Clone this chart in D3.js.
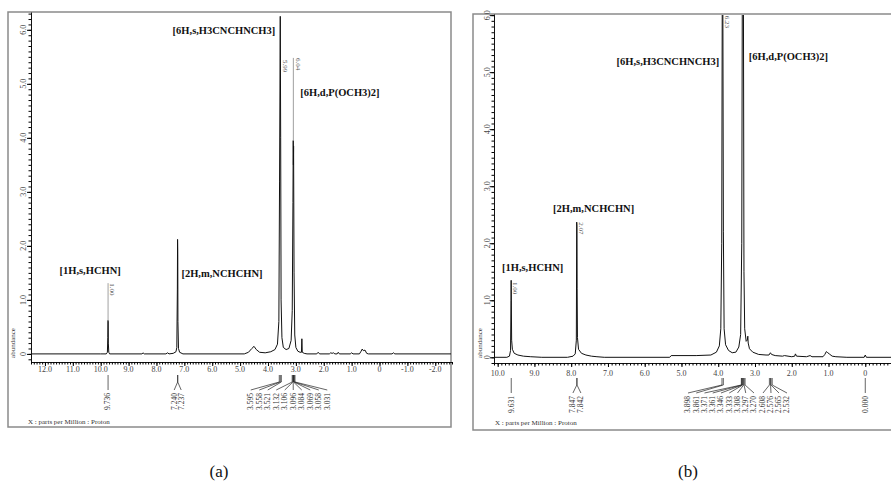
<!DOCTYPE html>
<html>
<head>
<meta charset="utf-8">
<script src="https://cdnjs.cloudflare.com/ajax/libs/d3/7.8.5/d3.min.js"></script>
<style>
  body { margin: 0; background: #fff; }
  svg { display: block; font-family: "Liberation Serif", "Times New Roman", serif; }
</style>
</head>
<body>
<div id="chart"></div>
<script>
/************ data *************************************************/

const yTickValues = [0, 1, 2, 3, 4, 5, 6];
const xTickValuesA = [12, 11, 10, 9, 8, 7, 6, 5, 4, 3, 2, 1, 0, -1, -2];
const xTickValuesB = [10, 9, 8, 7, 6, 5, 4, 3, 2, 1, 0];

const captions = ["(a)", "(b)"];
const xTitle = "X : parts per Million : Proton";
const yTitle = "abundance";

const assignments = ["[1H,s,HCHN]", "[2H,m,NCHCHN]", "[6H,s,H3CNCHNCH3]", "[6H,d,P(OCH3)2]"];

// [ppm, abundance]
const spectrumA = [
  [12.5, 0], [10.0, 0], [9.80, 0], [9.76, 0.03], [9.745, 0.3], [9.738, 0.62], [9.733, 0.6], [9.726, 0.2], [9.71, 0.03], [9.68, 0],
  [8.52, 0], [8.48, 0.02], [8.44, 0],
  [7.66, 0], [7.60, 0.02], [7.55, 0],
  [7.40, 0.01], [7.30, 0.04], [7.27, 0.12], [7.25, 1.2], [7.243, 2.12], [7.236, 1.9], [7.23, 0.6], [7.21, 0.1], [7.17, 0.03], [7.05, 0],
  [4.85, 0], [4.70, 0.03], [4.58, 0.1], [4.50, 0.14], [4.42, 0.08], [4.30, 0.03], [4.10, 0.02], [3.90, 0.04], [3.75, 0.08],
  [3.66, 0.18], [3.61, 0.6], [3.585, 3.2], [3.56, 6.25], [3.545, 4.0], [3.53, 1.0], [3.50, 0.3], [3.45, 0.12], [3.35, 0.08],
  [3.25, 0.1], [3.17, 0.25], [3.13, 0.8], [3.105, 2.8], [3.095, 3.95], [3.088, 3.5], [3.082, 3.85], [3.065, 1.5], [3.04, 0.35],
  [3.00, 0.12], [2.93, 0.05], [2.85, 0.03], [2.80, 0.03], [2.785, 0.28], [2.77, 0.03], [2.70, 0.01], [2.60, 0],
  [2.25, 0], [2.20, 0.03], [2.15, 0],
  [1.80, 0], [1.75, 0.02], [1.70, 0.01], [1.65, 0.02], [1.60, 0], [1.52, 0], [1.48, 0.03], [1.44, 0],
  [1.05, 0], [1.00, 0.02], [0.95, 0],
  [0.72, 0], [0.66, 0.05], [0.62, 0.09], [0.58, 0.06], [0.52, 0.07], [0.46, 0.01], [0.40, 0],
  [-0.45, 0], [-0.50, 0.02], [-0.55, 0], [-2.6, 0]
];

const spectrumB = [
  [10.1, 0], [9.75, 0], [9.68, 0.02], [9.65, 0.12], [9.637, 1.0], [9.633, 1.35], [9.628, 0.9], [9.62, 0.3], [9.60, 0.14],
  [9.55, 0.07], [9.45, 0.04], [9.30, 0.02], [9.10, 0.01], [8.80, 0],
  [8.10, 0], [7.95, 0.02], [7.89, 0.06], [7.86, 0.3], [7.85, 2.37], [7.844, 2.3], [7.838, 1.2], [7.83, 0.35], [7.80, 0.14],
  [7.72, 0.07], [7.60, 0.04], [7.45, 0.02], [7.30, 0.01], [7.10, 0],
  [5.32, 0], [5.28, 0.03], [4.60, 0.03], [4.20, 0.04], [4.05, 0.09], [3.97, 0.2], [3.93, 0.5], [3.905, 2.0], [3.89, 6.5],
  [3.875, 6.5], [3.86, 2.2], [3.84, 0.5], [3.80, 0.22], [3.72, 0.12], [3.62, 0.08], [3.52, 0.09], [3.44, 0.18], [3.39, 0.4],
  [3.36, 2.0], [3.345, 6.5], [3.315, 6.5], [3.30, 1.5], [3.28, 0.5], [3.24, 0.28], [3.21, 0.3], [3.195, 0.37], [3.185, 0.25],
  [3.15, 0.15], [3.06, 0.09], [2.90, 0.05], [2.70, 0.04], [2.62, 0.04], [2.58, 0.08], [2.55, 0.05], [2.45, 0.03],
  [2.25, 0.02], [2.20, 0.03], [2.00, 0.01], [1.92, 0.02], [1.90, 0.06], [1.87, 0.02], [1.60, 0.01], [1.50, 0.03], [1.45, 0.01],
  [1.15, 0.01], [1.10, 0.05], [1.06, 0.1], [1.02, 0.08], [0.98, 0.06], [0.90, 0.02], [0.80, 0.01], [0.50, 0],
  [0.03, 0], [0.00, 0.04], [-0.03, 0], [-0.7, 0]
];

const integralsA = ["1.00", "5.99", "6.04"];
const integralPpmA = [9.736, 3.55, 3.09];
const integralsB = ["1.00", "2.07", "6.23"];
const integralPpmB = [9.631, 7.845, 3.885];

const peakPicksA = [
  [9.736],
  [7.240, 7.237],
  [3.595, 3.558, 3.521, 3.132, 3.106, 3.096, 3.084, 3.069, 3.058, 3.031]
];
const peakPicksB = [
  [9.631],
  [7.847, 7.842],
  [3.898, 3.861, 3.371, 3.361, 3.346, 3.333, 3.308, 3.297, 3.270],
  [2.608, 2.576, 2.565, 2.532],
  [0.000]
];

/************ layout *****************/

const layoutA = {
  id: "a",
  frame: [8, 12, 451, 427],
  xDomain: [12.5, -2.6], xRange: [31, 452],
  yDomain: [-0.15, 6.33], yRange: [362, 12],
  xTicks: xTickValuesA, spectrum: spectrumA,
  integrals: integralsA, integralPpm: integralPpmA, integralTop: [1.31, 5.44, 5.48],
  assignPos: [[10.38, 1.48], [5.65, 1.42], [5.58, 5.92], [1.42, 4.78]],
  picks: peakPicksA, pickCenters: [null, null, 3.246], pickSpacing: [0, 7, 8.5],
  pickY: [375, 382, 390, 393],
  yLabelX: 23, xLabelY: 372, xTitlePos: [28, 424], yTitlePos: [13, 343]
};

const layoutB = {
  id: "b",
  frame: [473, 14, 895, 430],
  xDomain: [10.1, -0.7], xRange: [494, 891],
  yDomain: [-0.1, 6.02], yRange: [363, 14],
  xTicks: xTickValuesB, spectrum: spectrumB,
  integrals: integralsB, integralPpm: integralPpmB, integralTop: [1.32, 2.37, 5.99],
  assignPos: [[9.05, 1.51], [7.39, 2.55], [5.37, 5.13], [2.09, 5.22]],
  picks: peakPicksB, pickCenters: [null, null, 3.925, 2.456, null], pickSpacing: [0, 8, 8.25, 8, 0],
  pickY: [378, 385, 393, 396],
  yLabelX: 487, xLabelY: 376, xTitlePos: [495, 425], yTitlePos: [480, 343]
};

const svg = d3.select("#chart").append("svg")
    .attr("width", 891)
    .attr("height", 495);

function fmtTick(d) { return d === 0 ? "0" : d.toFixed(1); }

function drawPanel(cfg) {
  const x = d3.scaleLinear().domain(cfg.xDomain).range(cfg.xRange);
  const y = d3.scaleLinear().domain(cfg.yDomain).range(cfg.yRange);
  const [fx0, fy0, fx1, fy1] = cfg.frame;
  const g = svg.append("g");

  g.append("rect")
      .attr("x", fx0).attr("y", fy0)
      .attr("width", fx1 - fx0).attr("height", fy1 - fy0)
      .attr("fill", "none").attr("stroke", "#8a8a8a").attr("stroke-width", 1.5);

  // spectrum, clipped to the plotting box
  const clipId = "clip-" + cfg.id;
  svg.append("clipPath").attr("id", clipId).append("rect")
      .attr("x", cfg.xRange[0]).attr("y", fy0 + 1)
      .attr("width", fx1 - cfg.xRange[0]).attr("height", cfg.yRange[0] - fy0 - 1);

  const line = d3.line().x(d => x(d[0])).y(d => y(d[1]));
  g.append("path")
      .datum(cfg.spectrum)
      .attr("clip-path", "url(#" + clipId + ")")
      .attr("d", line)
      .attr("fill", "none").attr("stroke", "#111").attr("stroke-width", 1);

  // y axis
  g.append("g").attr("transform", "translate(" + cfg.xRange[0] + ",0)")
      .call(d3.axisLeft(y).tickValues(y.ticks(60)).tickSize(2.5).tickSizeOuter(0).tickFormat(""))
      .call(a => a.select(".domain").attr("stroke", "#111"));
  g.append("g").attr("transform", "translate(" + cfg.xRange[0] + ",0)")
      .call(d3.axisLeft(y).tickValues(yTickValues).tickSize(4).tickSizeOuter(0).tickFormat(""))
      .call(a => a.select(".domain").remove());
  g.selectAll("text.ylab").data(yTickValues).enter().append("text")
      .attr("class", "ylab")
      .attr("transform", d => "translate(" + cfg.yLabelX + "," + y(d) + ") rotate(-90)")
      .attr("text-anchor", "middle").attr("dy", "0.32em")
      .attr("font-size", 8).attr("fill", "#444")
      .text(fmtTick);

  // x axis
  const xAxisG = g.append("g").attr("transform", "translate(0," + cfg.yRange[0] + ")");
  xAxisG.call(d3.axisBottom(x).tickValues(x.ticks(150)).tickSize(2.5).tickSizeOuter(0).tickFormat(""))
      .call(a => a.select(".domain").attr("stroke", "#111"));
  g.append("g").attr("transform", "translate(0," + cfg.yRange[0] + ")")
      .call(d3.axisBottom(x).tickValues(cfg.xTicks).tickSize(4).tickSizeOuter(0).tickFormat(""))
      .call(a => a.select(".domain").remove());
  g.selectAll("text.xlab").data(cfg.xTicks).enter().append("text")
      .attr("class", "xlab")
      .attr("x", d => x(d)).attr("y", cfg.xLabelY)
      .attr("text-anchor", "middle")
      .attr("font-size", 8).attr("fill", "#444")
      .text(fmtTick);

  g.append("text")
      .attr("x", cfg.xTitlePos[0]).attr("y", cfg.xTitlePos[1])
      .attr("font-size", 7).attr("fill", "#333")
      .text(xTitle);
  g.append("text")
      .attr("transform", "translate(" + cfg.yTitlePos[0] + "," + cfg.yTitlePos[1] + ") rotate(-90)")
      .attr("text-anchor", "middle").attr("dy", "0.32em")
      .attr("font-size", 7).attr("fill", "#333")
      .text(yTitle);

  // assignment labels
  g.selectAll("text.assign").data(assignments).enter().append("text")
      .attr("class", "assign")
      .attr("x", (d, i) => x(cfg.assignPos[i][0]))
      .attr("y", (d, i) => y(cfg.assignPos[i][1]))
      .attr("text-anchor", "middle")
      .attr("font-size", 10.5).attr("font-weight", "bold").attr("fill", "#111")
      .text(d => d);

  // integral values
  cfg.integrals.forEach((lab, i) => {
    const p = cfg.integralPpm[i];
    const top = y(cfg.integralTop[i]);
    const peak = d3.max(cfg.spectrum.filter(d => Math.abs(d[0] - p) < 0.03), d => d[1]);
    const bottom = y(peak);
    if (bottom > top) {
      g.append("line")
          .attr("x1", x(p)).attr("x2", x(p)).attr("y1", top).attr("y2", bottom)
          .attr("stroke", "#888").attr("stroke-width", 0.8);
    }
    g.append("text")
        .attr("transform", "translate(" + (x(p) + 4.5) + "," + top + ") rotate(90)")
        .attr("dy", "0.32em")
        .attr("font-size", 7).attr("fill", "#555")
        .text(lab);
  });

  // peak picks below the axis
  const [y0, y1, y2, yt] = cfg.pickY;
  cfg.picks.forEach((group, gi) => {
    const n = group.length;
    const cx = cfg.pickCenters[gi] === null ? x(d3.mean(group)) : x(cfg.pickCenters[gi]);
    group.forEach((v, i) => {
      const px = x(v);
      const lx = cx + (i - (n - 1) / 2) * cfg.pickSpacing[gi];
      g.append("path")
          .attr("d", "M" + px + "," + y0 + "V" + y1 + "L" + lx + "," + y2)
          .attr("fill", "none").attr("stroke", "#222").attr("stroke-width", 0.7);
      g.append("text")
          .attr("transform", "translate(" + lx + "," + yt + ") rotate(-90)")
          .attr("text-anchor", "end").attr("dy", "0.32em")
          .attr("font-size", 7.5).attr("fill", "#333")
          .text(v.toFixed(3));
    });
  });
}

drawPanel(layoutA);
drawPanel(layoutB);

svg.selectAll("text.caption").data(captions).enter().append("text")
    .attr("class", "caption")
    .attr("x", (d, i) => [219, 688][i])
    .attr("y", 477)
    .attr("text-anchor", "middle")
    .attr("font-size", 17).attr("fill", "#111")
    .text(d => d);
</script>
</body>
</html>
